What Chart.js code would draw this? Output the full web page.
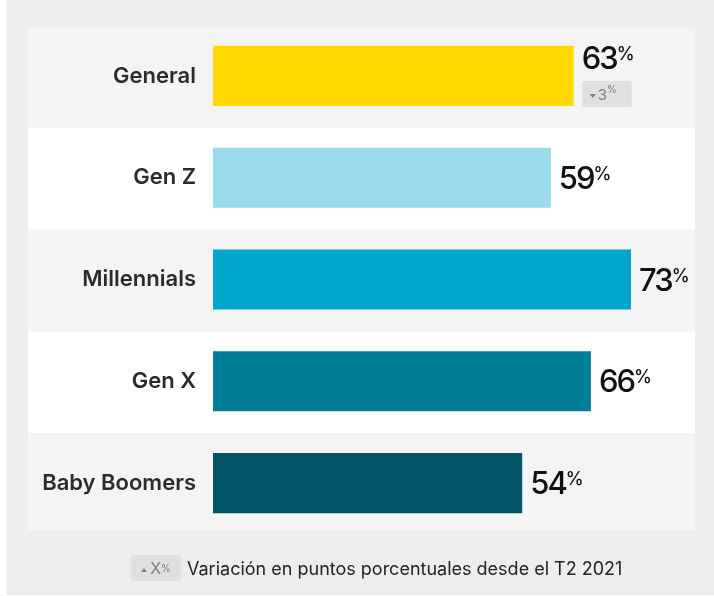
<!DOCTYPE html>
<html>
<head>
<meta charset="utf-8">
<script src="https://cdn.jsdelivr.net/npm/chart.js@4"></script>
<style>
  html, body { margin: 0; padding: 0; background: #fff; }
  #wrap { position: relative; width: 714px; height: 596px; }
  #chart { position: absolute; left: 0; top: 0; }
  .key { position: absolute; left: 131px; top: 555px; height: 26px; display: flex; align-items: center;
         font-family: Inter, 'Noto Sans', sans-serif; }
  .chip { width: 50px; height: 26px; background: #e0e0e0; border-radius: 2px; display: flex;
          align-items: center; justify-content: center; color: #7d7d7d; font-size: 16px; }
  .chip .tri { width: 0; height: 0; border-left: 3px solid transparent; border-right: 3px solid transparent;
               border-bottom: 4px solid #7d7d7d; margin-right: 3px; margin-top: 3px; }
  .chip sup { font-size: 10px; vertical-align: 6px; margin-left: 0; }
  .key .txt { margin-left: 6px; font-size: 18px; color: #222; }
</style>
</head>
<body>
<div id="wrap">
  <canvas id="chart" width="714" height="596"></canvas>
  <div class="key"><div class="chip"><span class="tri"></span>X<sup>%</sup></div><span class="txt">Variación en puntos porcentuales desde el T2 2021</span></div>
</div>
<script>
const categories = ['General', 'Gen Z', 'Millennials', 'Gen X', 'Baby Boomers'];
const shares = [63, 59, 73, 66, 54];
const changes = [-3, null, null, null, null];

const barColors = ['#ffd900', '#99dbea', '#00a6cb', '#007d99', '#005466'];
const FONT = "Inter, 'Noto Sans', sans-serif";

// panel + alternating row bands behind the bars
const bands = {
    id: 'bands',
    beforeDraw(chart) {
        const { ctx, scales } = chart;
        ctx.save();
        ctx.fillStyle = '#fff';
        ctx.fillRect(0, 0, chart.width, chart.height);
        ctx.fillStyle = '#ededed';
        ctx.fillRect(6, 0, chart.width - 6, 595);
        const mids = categories.map((_, i) => scales.y.getPixelForValue(i));
        mids.forEach((mid, i) => {
            const top = i === 0 ? 28 : (mids[i - 1] + mid) / 2 + 1;
            const bottom = i === mids.length - 1 ? 530 : (mid + mids[i + 1]) / 2 + 1;
            ctx.fillStyle = i % 2 === 0 ? '#f4f4f4' : '#ffffff';
            ctx.fillRect(28, top, 695 - 28, bottom - top);
        });
        ctx.restore();
    }
};

// value labels (and the change chip) at the end of each bar
const valueLabels = {
    id: 'valueLabels',
    afterDatasetsDraw(chart) {
        const { ctx } = chart;
        const bars = chart.getDatasetMeta(0).data;
        ctx.save();
        bars.forEach((bar, i) => {
            const x = bar.x + 8;
            const hasChange = changes[i] !== null;
            const base = hasChange ? bar.y - 7 : bar.y + 11;
            ctx.fillStyle = '#111';
            ctx.textBaseline = 'alphabetic';
            ctx.textAlign = 'left';
            ctx.letterSpacing = '-2px';
            ctx.font = '500 31px ' + FONT;
            const num = String(shares[i]);
            ctx.fillText(num, x, base);
            const w = ctx.measureText(num).width;
            ctx.letterSpacing = '0px';
            ctx.font = '500 18px ' + FONT;
            ctx.fillText('%', x + w, base - 9);

            if (hasChange) {
                const bx = x, by = bar.y + 5;
                ctx.fillStyle = '#e0e0e0';
                ctx.beginPath();
                ctx.roundRect(bx, by, 50, 26, 2);
                ctx.fill();
                ctx.fillStyle = '#7d7d7d';
                const down = changes[i] < 0;
                ctx.beginPath();
                if (down) {
                    ctx.moveTo(bx + 8, by + 13);
                    ctx.lineTo(bx + 14, by + 13);
                    ctx.lineTo(bx + 11, by + 17);
                } else {
                    ctx.moveTo(bx + 8, by + 17);
                    ctx.lineTo(bx + 14, by + 17);
                    ctx.lineTo(bx + 11, by + 13);
                }
                ctx.fill();
                ctx.font = '400 15px ' + FONT;
                const t = String(Math.abs(changes[i]));
                ctx.fillText(t, bx + 16, by + 19);
                const tw = ctx.measureText(t).width;
                ctx.font = '400 10px ' + FONT;
                ctx.fillText('%', bx + 16 + tw, by + 12);
            }
        });
        ctx.restore();
    }
};

new Chart(document.getElementById('chart'), {
    type: 'bar',
    data: {
        labels: categories,
        datasets: [{
            data: shares,
            backgroundColor: barColors,
            borderWidth: 0,
            barPercentage: 0.59,
            categoryPercentage: 1
        }]
    },
    options: {
        indexAxis: 'y',
        responsive: false,
        animation: false,
        layout: { padding: { left: 28, right: 20, top: 25, bottom: 62 } },
        plugins: { legend: { display: false }, tooltip: { enabled: false } },
        scales: {
            x: { min: 0, max: 84, display: false },
            y: {
                grid: { display: false },
                border: { display: false },
                ticks: { color: '#2b2b2b', padding: 9, font: { family: FONT, size: 22, weight: '600' } },
                afterFit(axis) { axis.width = 185; }
            }
        }
    },
    plugins: [bands, valueLabels]
});
</script>
</body>
</html>
